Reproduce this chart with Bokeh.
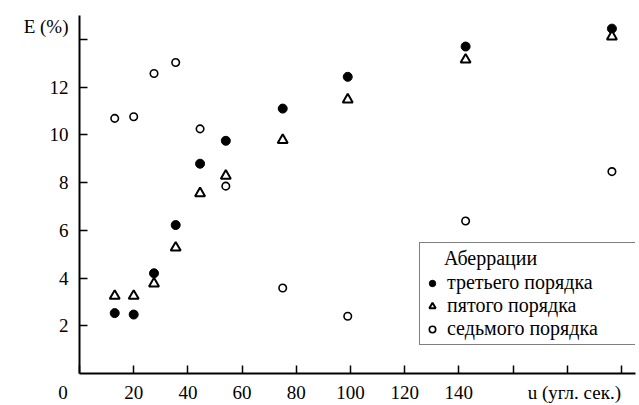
from bokeh.plotting import figure
from bokeh.models import Range1d, FixedTicker, Legend, LegendItem
from bokeh.embed import file_html
from bokeh.resources import INLINE

# data
u = [13, 20, 27.5, 35.5, 44.5, 54, 75, 99, 142.5, 196.5]
E_third = [2.53, 2.47, 4.2, 6.22, 8.79, 9.75, 11.1, 12.43, 13.7, 14.45]
E_fifth = [3.25, 3.25, 3.77, 5.27, 7.55, 8.28, 9.78, 11.48, 13.15, 14.12]
E_seventh = [10.69, 10.76, 12.57, 13.03, 10.25, 7.85, 3.58, 2.4, 6.39, 8.46]

NB = "\u00a0"
x_ticks = [0, 20, 40, 60, 80, 100, 120, 140, 160, 180, 200]
x_tick_labels = ["0" + NB * 7, "20", "40", "60", "80", "100", "120", "140", "",
                 NB * 3 + "u (угл. сек.)", ""]
y_ticks = [2, 4, 6, 8, 10, 12, 14]
y_tick_labels = ["2", "4", "6", "8", "10", "12", "E (%)\n" + NB]

legend_title = "Аберрации"
series_names = ["третьего порядка", "пятого порядка", "седьмого порядка"]

FONT = "Liberation Serif"

p = figure(width=639, height=405, x_range=Range1d(0, 205.2), y_range=Range1d(0, 15),
           output_backend="svg", toolbar_location=None,
           min_border_left=79, min_border_right=4, min_border_top=15, min_border_bottom=30)
p.outline_line_color = None
p.grid.visible = False
p.background_fill_color = "white"
p.border_fill_color = "white"

for ax in (p.xaxis[0], p.yaxis[0]):
    ax.axis_line_width = 2
    ax.axis_line_color = "black"
    ax.major_tick_in = 8
    ax.major_tick_out = 0
    ax.major_tick_line_width = 1.5
    ax.major_tick_line_color = "black"
    ax.minor_tick_line_color = None
    ax.major_label_text_font = FONT
    ax.major_label_text_font_size = "19px"
    ax.major_label_text_color = "black"

p.xaxis.ticker = FixedTicker(ticks=x_ticks)
p.xaxis.major_label_overrides = {t: l for t, l in zip(x_ticks, x_tick_labels)}
p.xaxis.major_label_standoff = 8
p.yaxis.ticker = FixedTicker(ticks=y_ticks)
p.yaxis.major_label_overrides = {t: l for t, l in zip(y_ticks, y_tick_labels)}
p.yaxis.major_label_standoff = 11

r3 = p.scatter(u, E_third, marker="circle", size=9, fill_color="black", line_color="black")
r5 = p.scatter(u, E_fifth, marker="triangle", size=10, fill_color="white",
               line_color="black", line_width=2)
r7 = p.scatter(u, E_seventh, marker="circle", size=7.5, fill_color="white",
               line_color="black", line_width=1.6)

legend = Legend(items=[LegendItem(label=series_names[0], renderers=[r3]),
                       LegendItem(label=series_names[1], renderers=[r5]),
                       LegendItem(label=series_names[2] + NB * 7, renderers=[r7])],
                location=(340, 28), title=NB * 4 + legend_title)
legend.title_text_font = FONT
legend.title_text_font_size = "20px"
legend.title_text_font_style = "normal"
legend.title_text_color = "black"
legend.title_standoff = 1
legend.label_text_font = FONT
legend.label_text_font_size = "20px"
legend.label_text_color = "black"
legend.border_line_color = "black"
legend.border_line_width = 1.5
legend.background_fill_color = "white"
legend.background_fill_alpha = 1
legend.padding = 4
legend.spacing = 0
legend.margin = 0
legend.glyph_width = 16
legend.glyph_height = 16
legend.label_standoff = 7
legend.label_height = 20
p.add_layout(legend, "center")

open("out.html", "w").write(file_html(p, INLINE))
